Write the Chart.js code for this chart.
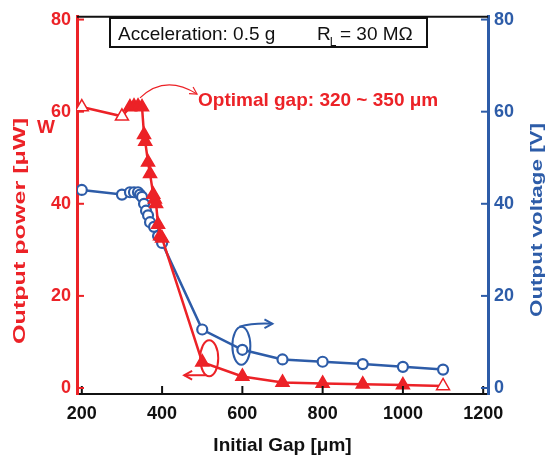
<!DOCTYPE html>
<html>
<head>
<meta charset="utf-8">
<script src="https://cdn.jsdelivr.net/npm/chart.js@4.4.1/dist/chart.umd.min.js"></script>
<style>
    html, body { margin: 0; padding: 0; background: #fff; }
    #wrap { width: 550px; height: 457px; }
</style>
</head>
<body>
<div id="wrap"><canvas id="gapChart"></canvas></div>
<script>
// power curve (left axis, uW)
const powerGap = [200, 300, 320, 330, 340, 350, 355, 358, 365, 370, 378, 382, 385, 390, 395, 400, 500, 600, 700, 800, 900, 1000, 1100];
const powerValues = [61, 59, 61, 61.2, 61.2, 61, 55, 53.5, 49, 46.5, 42, 41, 40, 35.5, 33, 32.5, 5.6, 2.5, 1.2, 1.0, 0.8, 0.65, 0.45];
const powerHollow = [200, 300, 1100];

// voltage curve (right axis, V)
const voltageGap = [200, 300, 320, 330, 340, 345, 350, 355, 360, 365, 370, 380, 390, 400, 500, 600, 700, 800, 900, 1000, 1100];
const voltageValues = [43, 42, 42.5, 42.5, 42.5, 42, 41.5, 40, 38.5, 37.5, 36, 35, 33, 31.5, 12.7, 8.3, 6.2, 5.7, 5.2, 4.6, 4.0];

const xTickValues = [200, 400, 600, 800, 1000, 1200];
const yTickValues = [0, 20, 40, 60, 80];

const red = "#ec2227";
const blue = "#2d5ca8";
const fontFamily = "'Liberation Sans', Arial, sans-serif";

function setTicks(values) {
    return scale => {
        scale.ticks = values.map(v => ({ value: v }));
    };
}

function arrowHead(ctx, x, y, angle, len) {
    ctx.beginPath();
    ctx.moveTo(x - len * Math.cos(angle - 0.5), y - len * Math.sin(angle - 0.5));
    ctx.lineTo(x, y);
    ctx.lineTo(x - len * Math.cos(angle + 0.5), y - len * Math.sin(angle + 0.5));
    ctx.stroke();
}

// rotated title, stretched along its length like the scanned figure
function verticalTitle(ctx, text, cx, cy, color, length) {
    ctx.save();
    ctx.fillStyle = color;
    ctx.font = `bold 17px ${fontFamily}`;
    ctx.textAlign = "center";
    ctx.textBaseline = "middle";
    const w = ctx.measureText(text).width;
    ctx.translate(cx, cy);
    ctx.rotate(-Math.PI / 2);
    ctx.scale(length / w, 1);
    ctx.fillText(text, 0, 0);
    ctx.restore();
}

const extrasPlugin = {
    id: "extras",
    afterDatasetsDraw(chart) {
        const { ctx, scales: { x, y, y1 } } = chart;
        ctx.save();

        // info box
        ctx.strokeStyle = "#111";
        ctx.lineWidth = 2;
        ctx.strokeRect(110, 18, 317, 29);
        ctx.fillStyle = "#111";
        ctx.textBaseline = "alphabetic";
        ctx.font = `19px ${fontFamily}`;
        ctx.fillText("Acceleration: 0.5 g", 118, 40);
        ctx.fillText("R", 317, 40);
        const rw = ctx.measureText("R").width;
        ctx.font = `12px ${fontFamily}`;
        ctx.fillText("L", 317 + rw - 1, 46);
        ctx.font = `19px ${fontFamily}`;
        ctx.fillText("= 30 M\u03A9", 340, 40);

        // optimal gap label + curved arrow
        ctx.fillStyle = red;
        ctx.font = `bold 19px ${fontFamily}`;
        ctx.textBaseline = "middle";
        ctx.fillText("Optimal gap: 320 ~ 350 \u03BCm", 198, 101);
        ctx.fillText("W", 37, 128);

        ctx.strokeStyle = red;
        ctx.lineWidth = 1.2;
        const sx = x.getPixelForValue(345), sy = y.getPixelForValue(63);
        const ex = 197, ey = 94;
        ctx.beginPath();
        ctx.moveTo(sx, sy);
        ctx.quadraticCurveTo(165, 74, ex, ey);
        ctx.stroke();
        arrowHead(ctx, ex, ey, Math.atan2(ey - 74, ex - 165), 8);

        // red loop -> left axis
        const rx = x.getPixelForValue(500) + 7, ry = y.getPixelForValue(5.6) - 4;
        ctx.lineWidth = 2;
        ctx.beginPath();
        ctx.ellipse(rx, ry, 9, 18, 0, 0, Math.PI * 2);
        ctx.stroke();
        ctx.beginPath();
        ctx.moveTo(rx - 3, ry + 17);
        ctx.lineTo(rx - 25, ry + 17);
        ctx.stroke();
        arrowHead(ctx, rx - 25, ry + 17, Math.PI, 9);

        // blue loop -> right axis
        const bx = x.getPixelForValue(600) - 1, by = y1.getPixelForValue(8.3) - 4;
        ctx.strokeStyle = blue;
        ctx.beginPath();
        ctx.ellipse(bx, by, 9, 19, 0, 0, Math.PI * 2);
        ctx.stroke();
        ctx.beginPath();
        ctx.moveTo(bx - 2, by - 19);
        ctx.quadraticCurveTo(bx + 12, by - 23, bx + 31, by - 22);
        ctx.stroke();
        arrowHead(ctx, bx + 31, by - 22, 0, 9);

        ctx.restore();
    },
    afterDraw(chart) {
        const { ctx, chartArea: area, scales: { x, y, y1 } } = chart;
        ctx.save();
        ctx.lineWidth = 2;

        // top frame line
        ctx.strokeStyle = "#111";
        ctx.beginPath();
        ctx.moveTo(area.left, area.top);
        ctx.lineTo(area.right, area.top);
        ctx.stroke();

        // inward tick marks
        xTickValues.forEach(v => {
            const px = x.getPixelForValue(v);
            ctx.beginPath();
            ctx.moveTo(px, area.bottom);
            ctx.lineTo(px, area.bottom - 8);
            ctx.stroke();
        });
        ctx.strokeStyle = red;
        yTickValues.forEach(v => {
            const py = y.getPixelForValue(v);
            ctx.beginPath();
            ctx.moveTo(area.left, py);
            ctx.lineTo(area.left + 7, py);
            ctx.stroke();
        });
        ctx.strokeStyle = blue;
        yTickValues.forEach(v => {
            const py = y1.getPixelForValue(v);
            ctx.beginPath();
            ctx.moveTo(area.right, py);
            ctx.lineTo(area.right - 7, py);
            ctx.stroke();
        });
        ctx.restore();

        verticalTitle(ctx, "Output power [\u03BCW]", 20, 231, red, 226);
        verticalTitle(ctx, "Output voltage [V]", 537, 220, blue, 194);
    }
};

const tickFont = { family: fontFamily, size: 18, weight: "bold" };

const ctx = document.getElementById("gapChart").getContext("2d");

const gapChart = new Chart(ctx, {
    type: "line",
    data: {
        datasets: [
            {
                label: "Output power",
                data: powerGap.map((g, i) => ({ x: g, y: powerValues[i] })),
                yAxisID: "y",
                borderColor: red,
                borderWidth: 2.5,
                pointStyle: "triangle",
                pointRadius: 7.5,
                pointBorderWidth: 1.5,
                pointBorderColor: red,
                pointBackgroundColor: powerGap.map(g => powerHollow.includes(g) ? "#fff" : red),
                tension: 0
            },
            {
                label: "Output voltage",
                data: voltageGap.map((g, i) => ({ x: g, y: voltageValues[i] })),
                yAxisID: "y1",
                borderColor: blue,
                borderWidth: 2.5,
                pointStyle: "circle",
                pointRadius: 5,
                pointBorderWidth: 2.2,
                pointBorderColor: blue,
                pointBackgroundColor: "#fff",
                tension: 0
            }
        ]
    },
    options: {
        responsive: true,
        maintainAspectRatio: false,
        animation: false,
        layout: { padding: { top: 12, left: 0, right: 0, bottom: 0 } },
        plugins: {
            legend: { display: false },
            tooltip: { enabled: false }
        },
        scales: {
            x: {
                type: "linear",
                min: 188,
                max: 1212,
                afterFit: scale => { scale.height = 63; },
                afterBuildTicks: setTicks(xTickValues),
                grid: { display: false, drawTicks: false },
                border: { color: "#111", width: 2 },
                ticks: {
                    color: "#111",
                    padding: 9,
                    font: tickFont,
                    callback: v => String(v)
                },
                title: {
                    display: true,
                    text: "Initial Gap [\u03BCm]",
                    color: "#111",
                    padding: { top: 0, bottom: 0 },
                    font: { family: fontFamily, size: 19, weight: "bold" }
                }
            },
            y: {
                position: "left",
                min: -1.3,
                max: 80.6,
                afterFit: scale => { scale.width = 77; },
                afterBuildTicks: setTicks(yTickValues),
                grid: { display: false, drawTicks: false },
                border: { color: red, width: 3 },
                ticks: {
                    color: red,
                    padding: 6,
                    font: tickFont,
                    callback: v => String(v)
                }
            },
            y1: {
                position: "right",
                min: -1.3,
                max: 80.6,
                afterFit: scale => { scale.width = 62; },
                afterBuildTicks: setTicks(yTickValues),
                grid: { display: false, drawTicks: false },
                border: { color: blue, width: 3 },
                ticks: {
                    color: blue,
                    padding: 6,
                    font: tickFont,
                    callback: v => String(v)
                }
            }
        }
    },
    plugins: [extrasPlugin]
});
</script>
</body>
</html>
